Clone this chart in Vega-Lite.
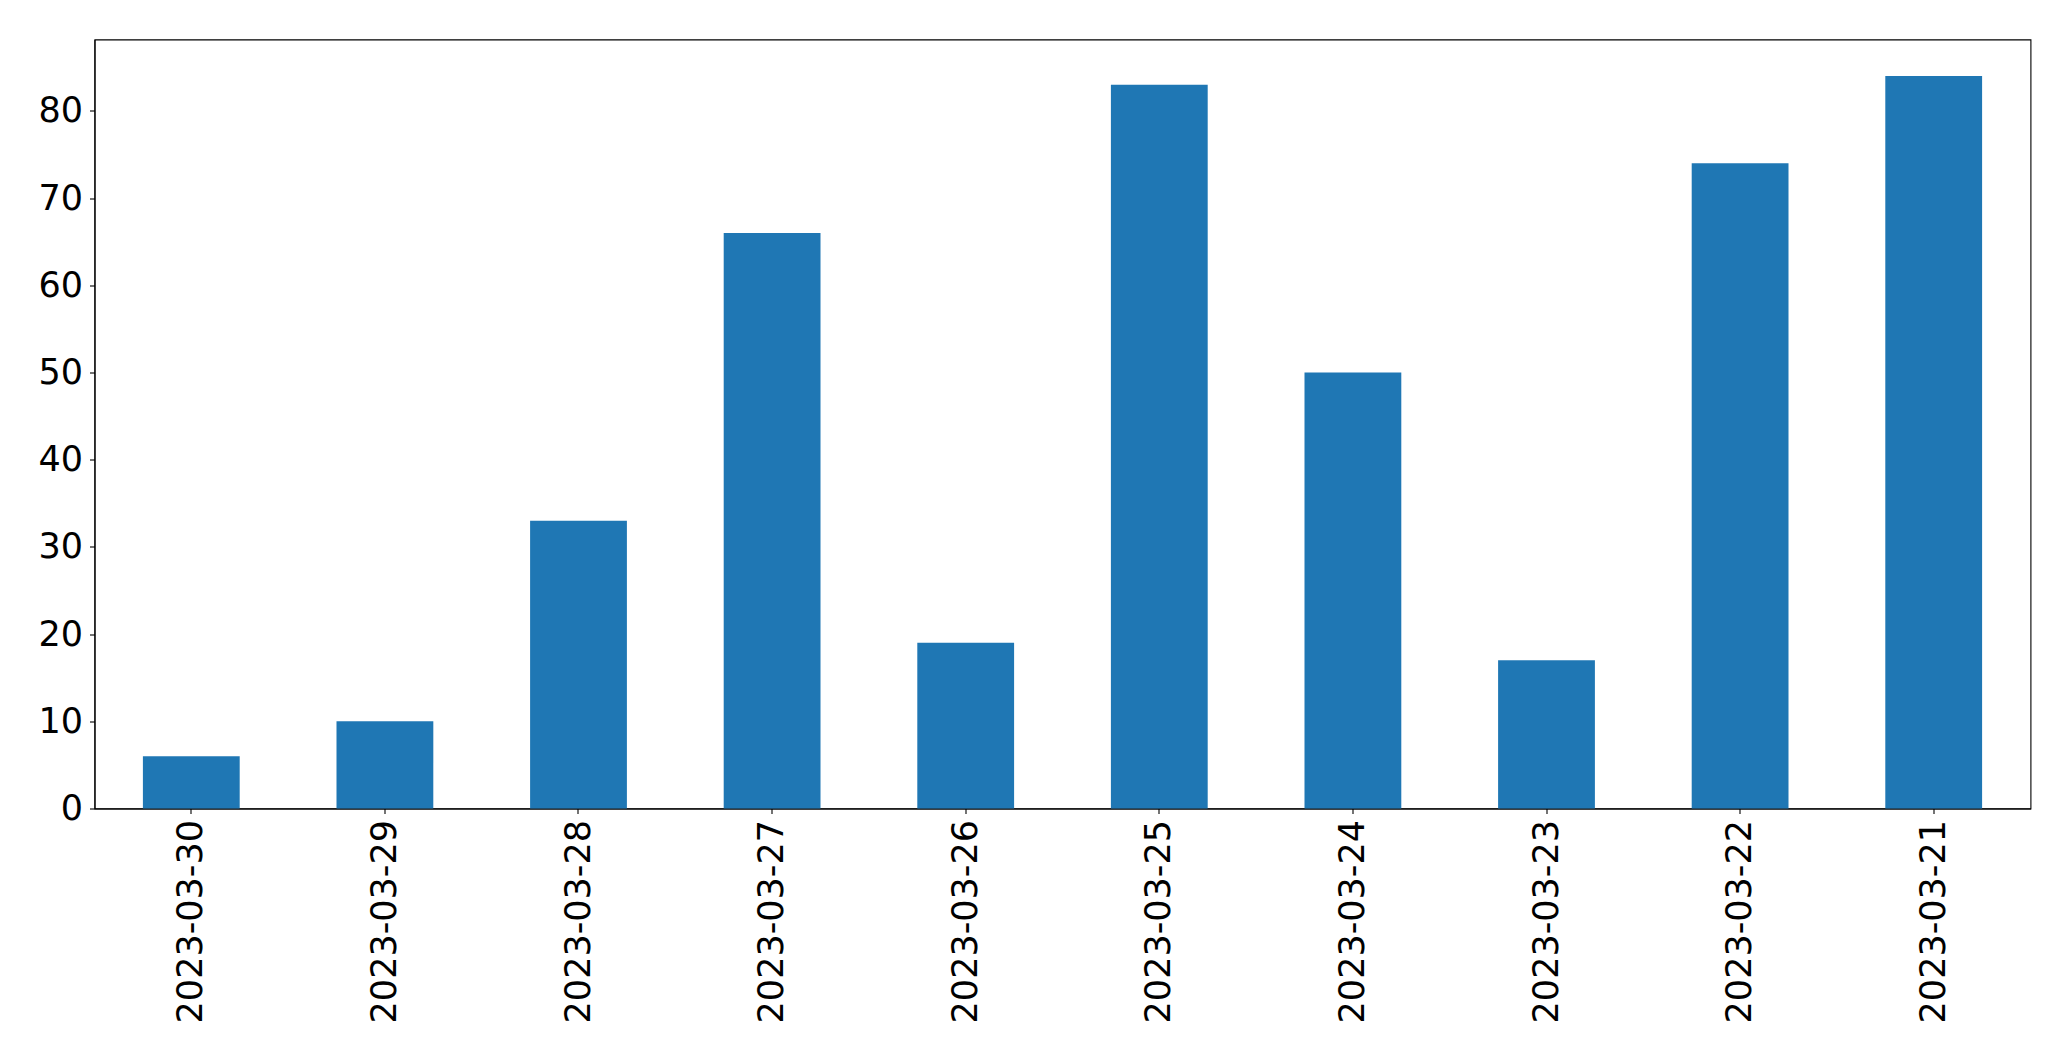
{
  "$schema": "https://vega.github.io/schema/vega-lite/v6.json",
  "width": 1936,
  "height": 769,
  "autosize": {"type": "none"},
  "padding": {"left": 94.5, "top": 39.5, "right": 40, "bottom": 252},
  "background": "white",
  "config": {
    "view": {"stroke": "black", "strokeWidth": 1.1},
    "font": "DejaVu Sans"
  },
  "data": {
    "values": [
      {"date": "2023-03-30", "value": 6},
      {"date": "2023-03-29", "value": 10},
      {"date": "2023-03-28", "value": 33},
      {"date": "2023-03-27", "value": 66},
      {"date": "2023-03-26", "value": 19},
      {"date": "2023-03-25", "value": 83},
      {"date": "2023-03-24", "value": 50},
      {"date": "2023-03-23", "value": 17},
      {"date": "2023-03-22", "value": 74},
      {"date": "2023-03-21", "value": 84}
    ]
  },
  "mark": {"type": "bar", "color": "#1f77b4"},
  "encoding": {
    "x": {
      "field": "date",
      "type": "nominal",
      "sort": null,
      "title": null,
      "scale": {"paddingInner": 0.5, "paddingOuter": 0.25},
      "axis": {
        "labelAngle": -90,
        "labelAlign": "right",
        "labelBaseline": "middle",
        "labelFontSize": 35,
        "labelLimit": 0,
        "labelColor": "black",
        "labelFont": "DejaVu Sans",
        "labelPadding": 6,
        "tickSize": 5,
        "tickColor": "black",
        "tickWidth": 1.1,
        "domainColor": "black",
        "domainWidth": 1.1,
        "grid": false
      }
    },
    "y": {
      "field": "value",
      "type": "quantitative",
      "title": null,
      "scale": {"domain": [0, 88.2], "nice": false, "zero": true},
      "axis": {
        "values": [0, 10, 20, 30, 40, 50, 60, 70, 80],
        "labelFontSize": 35,
        "labelColor": "black",
        "labelFont": "DejaVu Sans",
        "labelPadding": 7,
        "tickSize": 5,
        "tickColor": "black",
        "tickWidth": 1.1,
        "domainColor": "black",
        "domainWidth": 1.1,
        "grid": false
      }
    }
  }
}
